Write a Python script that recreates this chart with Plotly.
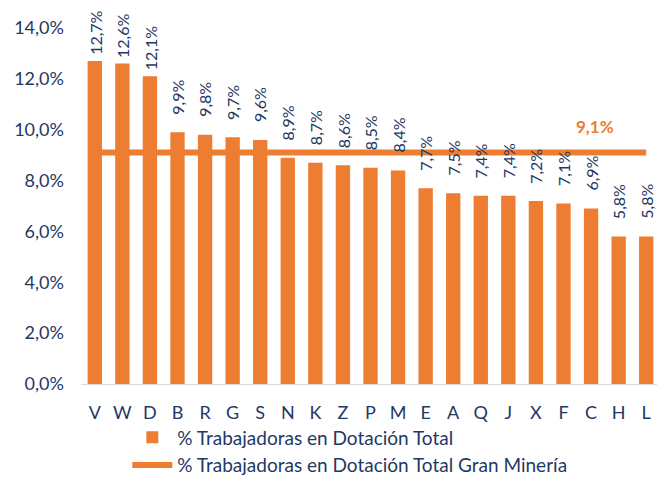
import plotly.graph_objects as go

# categories and values
categorias = ["V", "W", "D", "B", "R", "G", "S", "N", "K", "Z", "P",
              "M", "E", "A", "Q", "J", "X", "F", "C", "H", "L"]
dotacion_total = [12.7, 12.6, 12.1, 9.9, 9.8, 9.7, 9.6, 8.9, 8.7, 8.6, 8.5,
                  8.4, 7.7, 7.5, 7.4, 7.4, 7.2, 7.1, 6.9, 5.8, 5.8]
gran_mineria = [9.1] * len(categorias)
etiqueta_gm = "C"

navy = "#1F3864"
orange = "#ED7D31"
fuente = "Lato"

fig = go.Figure()

fig.add_trace(go.Bar(
    x=categorias,
    y=dotacion_total,
    name="% Trabajadoras en Dotación Total",
    marker=dict(color=orange, line=dict(width=0)),
))

fig.add_trace(go.Scatter(
    x=categorias,
    y=gran_mineria,
    name="% Trabajadoras en Dotación Total Gran Minería",
    mode="lines",
    line=dict(color=orange, width=6),
))

# rotated data labels, lifted above each bar like the original
for cat, val in zip(categorias, dotacion_total):
    texto = f"{val:.1f}%".replace(".", ",")
    fig.add_annotation(
        x=cat, y=val, text=texto,
        textangle=-90, showarrow=False, yanchor="middle",
        yshift=28 if len(texto) > 4 else 35,
        font=dict(color=navy, size=16, family=fuente),
    )

fig.add_annotation(
    x=etiqueta_gm, y=gran_mineria[categorias.index(etiqueta_gm)],
    text="<b>9,1%</b>", showarrow=False, yshift=26, xshift=4,
    font=dict(color=orange, size=17, family=fuente),
)

# page body adds an 8px offset, so the figure is sized to the visible area
fig.update_layout(
    width=657, height=474,
    margin=dict(l=73, r=5, t=20, b=98, autoexpand=False),
    plot_bgcolor="white", paper_bgcolor="white",
    separators=",.",
    bargap=0.48,
    font=dict(family=fuente, color=navy, size=17),
    legend=dict(
        orientation="v", x=0.08, xanchor="left",
        y=-0.282, yanchor="bottom",
        bgcolor="rgba(0,0,0,0)",
        font=dict(size=19, color=navy, family=fuente),
        itemwidth=40,
    ),
    xaxis=dict(
        showline=True, linecolor="#D9D9D9", linewidth=1,
        ticks="", ticklabelstandoff=12,
        tickfont=dict(size=18, color=navy),
    ),
    yaxis=dict(
        range=[0, 14], dtick=2, tickformat=".1f", ticksuffix="%",
        showgrid=False, zeroline=False, showline=False,
        ticklabelstandoff=16,
        tickfont=dict(size=18, color=navy),
    ),
)

fig.write_html("out.html")
